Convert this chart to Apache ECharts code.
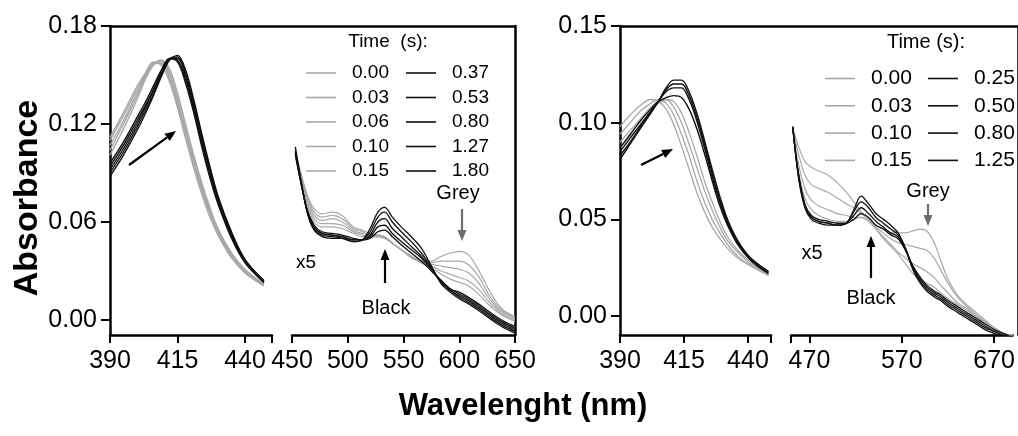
<!DOCTYPE html>
<html>
<head>
<meta charset="utf-8">
<script src="https://cdn.jsdelivr.net/npm/echarts@6/dist/echarts.min.js"></script>
<style>
  html, body { margin: 0; padding: 0; background: #fff; }
  #chart { width: 1018px; height: 436px; }
</style>
</head>
<body>
<div id="chart"></div>
<script>
// ---- left panel: Soret band (390-450 nm) ----
const wlA1 = [390, 395, 400, 403, 406, 409, 412, 415, 418, 421, 424, 427, 430, 435, 440, 447]
const timesAGrey = ['0.00', '0.03', '0.06', '0.10', '0.15']
const timesABlack = ['0.37', '0.53', '0.80', '1.27', '1.80']
const soretAGrey = [
  [0.112, 0.127, 0.143, 0.151, 0.158, 0.156, 0.146, 0.130, 0.111, 0.093, 0.077, 0.063, 0.052, 0.038, 0.029, 0.021],
  [0.110, 0.125, 0.141, 0.150, 0.157, 0.157, 0.148, 0.132, 0.113, 0.095, 0.079, 0.065, 0.053, 0.039, 0.029, 0.021],
  [0.107, 0.122, 0.139, 0.149, 0.157, 0.158, 0.150, 0.134, 0.115, 0.097, 0.080, 0.066, 0.054, 0.040, 0.030, 0.021],
  [0.104, 0.120, 0.137, 0.148, 0.156, 0.159, 0.152, 0.136, 0.117, 0.099, 0.082, 0.067, 0.055, 0.041, 0.030, 0.022],
  [0.101, 0.117, 0.135, 0.147, 0.156, 0.159, 0.154, 0.139, 0.120, 0.101, 0.084, 0.069, 0.056, 0.041, 0.031, 0.022]
]
const soretABlack = [
  [0.096, 0.109, 0.124, 0.133, 0.143, 0.153, 0.160, 0.158, 0.145, 0.127, 0.106, 0.087, 0.071, 0.050, 0.035, 0.023],
  [0.094, 0.107, 0.122, 0.131, 0.141, 0.152, 0.160, 0.159, 0.147, 0.129, 0.108, 0.089, 0.072, 0.051, 0.036, 0.023],
  [0.092, 0.105, 0.120, 0.130, 0.140, 0.151, 0.160, 0.160, 0.149, 0.131, 0.110, 0.091, 0.074, 0.052, 0.036, 0.024],
  [0.090, 0.103, 0.118, 0.128, 0.138, 0.150, 0.160, 0.161, 0.151, 0.133, 0.112, 0.093, 0.075, 0.053, 0.037, 0.024],
  [0.088, 0.101, 0.116, 0.126, 0.137, 0.149, 0.159, 0.162, 0.153, 0.135, 0.114, 0.094, 0.076, 0.054, 0.037, 0.024]
]

// ---- left panel: Q bands x5 (450-650 nm) ----
const wlA2 = [453, 458, 464, 470, 477, 486, 495, 505, 513, 520, 527, 533, 540, 548, 557, 566, 575, 584, 592, 600, 608, 617, 627, 638, 650]
const qAGrey = [
  [0.103, 0.090, 0.076, 0.068, 0.065, 0.066, 0.064, 0.057, 0.055, 0.053, 0.052, 0.051, 0.047, 0.043, 0.039, 0.036, 0.036, 0.039, 0.041, 0.042, 0.040, 0.031, 0.018, 0.007, 0.002],
  [0.103, 0.089, 0.075, 0.066, 0.063, 0.064, 0.062, 0.056, 0.054, 0.052, 0.052, 0.051, 0.047, 0.043, 0.039, 0.036, 0.035, 0.036, 0.036, 0.036, 0.034, 0.027, 0.015, 0.006, 0.002],
  [0.102, 0.088, 0.074, 0.064, 0.061, 0.062, 0.060, 0.055, 0.053, 0.052, 0.052, 0.051, 0.047, 0.043, 0.039, 0.036, 0.034, 0.033, 0.032, 0.031, 0.029, 0.023, 0.013, 0.005, 0.001],
  [0.102, 0.087, 0.072, 0.062, 0.059, 0.059, 0.058, 0.054, 0.052, 0.051, 0.051, 0.050, 0.047, 0.043, 0.039, 0.035, 0.033, 0.030, 0.028, 0.026, 0.024, 0.019, 0.011, 0.004, 0.000],
  [0.101, 0.086, 0.070, 0.060, 0.057, 0.057, 0.056, 0.053, 0.051, 0.051, 0.051, 0.050, 0.047, 0.043, 0.038, 0.035, 0.032, 0.028, 0.025, 0.023, 0.021, 0.016, 0.009, 0.003, -0.001]
]
const qABlack = [
  [0.101, 0.084, 0.067, 0.058, 0.054, 0.053, 0.052, 0.050, 0.049, 0.050, 0.054, 0.055, 0.051, 0.046, 0.041, 0.036, 0.030, 0.024, 0.019, 0.017, 0.014, 0.010, 0.005, 0.000, -0.004],
  [0.102, 0.084, 0.066, 0.057, 0.053, 0.052, 0.051, 0.049, 0.049, 0.051, 0.057, 0.058, 0.053, 0.048, 0.043, 0.038, 0.031, 0.024, 0.019, 0.016, 0.013, 0.009, 0.004, -0.001, -0.005],
  [0.103, 0.085, 0.066, 0.056, 0.053, 0.052, 0.051, 0.049, 0.049, 0.052, 0.060, 0.062, 0.056, 0.051, 0.045, 0.039, 0.031, 0.023, 0.018, 0.015, 0.012, 0.008, 0.003, -0.002, -0.006],
  [0.104, 0.085, 0.065, 0.055, 0.052, 0.051, 0.050, 0.048, 0.049, 0.054, 0.063, 0.066, 0.060, 0.054, 0.048, 0.041, 0.032, 0.023, 0.018, 0.014, 0.011, 0.007, 0.002, -0.003, -0.007],
  [0.106, 0.086, 0.065, 0.055, 0.051, 0.050, 0.050, 0.048, 0.049, 0.056, 0.066, 0.069, 0.063, 0.057, 0.051, 0.044, 0.033, 0.022, 0.017, 0.013, 0.010, 0.006, 0.001, -0.004, -0.008]
]

// ---- right panel: Soret band ----
const wlB1 = [390, 394, 398, 402, 405, 408, 411, 414, 417, 420, 423, 426, 429, 432, 436, 441, 448]
const timesBGrey = ['0.00', '0.03', '0.10', '0.15']
const timesBBlack = ['0.25', '0.50', '0.80', '1.25']
const soretBGrey = [
  [0.098, 0.104, 0.109, 0.112, 0.111, 0.107, 0.099, 0.088, 0.076, 0.064, 0.054, 0.046, 0.040, 0.035, 0.030, 0.026, 0.021],
  [0.094, 0.100, 0.106, 0.110, 0.112, 0.110, 0.104, 0.094, 0.083, 0.070, 0.059, 0.050, 0.043, 0.037, 0.031, 0.026, 0.021],
  [0.090, 0.096, 0.102, 0.108, 0.111, 0.112, 0.108, 0.100, 0.089, 0.077, 0.065, 0.055, 0.046, 0.039, 0.033, 0.027, 0.022],
  [0.087, 0.093, 0.099, 0.106, 0.110, 0.112, 0.111, 0.105, 0.095, 0.083, 0.070, 0.059, 0.049, 0.041, 0.034, 0.028, 0.022]
]
const soretBBlack = [
  [0.087, 0.094, 0.101, 0.107, 0.111, 0.113, 0.114, 0.113, 0.107, 0.097, 0.084, 0.070, 0.057, 0.047, 0.037, 0.029, 0.022],
  [0.085, 0.092, 0.099, 0.106, 0.111, 0.116, 0.118, 0.118, 0.112, 0.101, 0.087, 0.072, 0.059, 0.048, 0.038, 0.029, 0.022],
  [0.083, 0.090, 0.098, 0.105, 0.111, 0.117, 0.120, 0.120, 0.114, 0.103, 0.089, 0.074, 0.060, 0.049, 0.038, 0.030, 0.023],
  [0.081, 0.089, 0.097, 0.105, 0.111, 0.118, 0.122, 0.122, 0.116, 0.105, 0.091, 0.076, 0.062, 0.050, 0.039, 0.030, 0.023]
]

// ---- right panel: Q bands x5 ----
const wlB2 = [452, 458, 465, 472, 480, 490, 500, 510, 518, 526, 534, 542, 550, 558, 566, 574, 582, 590, 597, 605, 612, 620, 630, 640, 650, 660, 670, 680, 690]
const qBGrey = [
  [0.097, 0.088, 0.080, 0.077, 0.075, 0.073, 0.069, 0.064, 0.059, 0.054, 0.050, 0.047, 0.045, 0.043, 0.043, 0.043, 0.044, 0.045, 0.044, 0.038, 0.029, 0.019, 0.011, 0.006, 0.002, -0.002, -0.006, -0.009, -0.010],
  [0.097, 0.084, 0.073, 0.068, 0.066, 0.064, 0.061, 0.058, 0.056, 0.053, 0.050, 0.046, 0.043, 0.040, 0.038, 0.037, 0.036, 0.035, 0.034, 0.030, 0.024, 0.017, 0.010, 0.005, 0.001, -0.003, -0.006, -0.009, -0.010],
  [0.096, 0.079, 0.066, 0.060, 0.057, 0.055, 0.053, 0.052, 0.051, 0.051, 0.049, 0.045, 0.041, 0.037, 0.033, 0.030, 0.027, 0.025, 0.023, 0.020, 0.016, 0.012, 0.007, 0.004, 0.000, -0.003, -0.006, -0.009, -0.010],
  [0.096, 0.075, 0.061, 0.055, 0.052, 0.050, 0.049, 0.049, 0.050, 0.051, 0.049, 0.045, 0.040, 0.036, 0.032, 0.027, 0.022, 0.019, 0.017, 0.015, 0.012, 0.009, 0.006, 0.003, 0.000, -0.003, -0.006, -0.009, -0.010]
]
const qBBlack = [
  [0.097, 0.074, 0.058, 0.052, 0.050, 0.049, 0.048, 0.048, 0.050, 0.053, 0.051, 0.047, 0.045, 0.042, 0.040, 0.034, 0.026, 0.020, 0.016, 0.013, 0.011, 0.008, 0.005, 0.002, -0.001, -0.004, -0.007, -0.009, -0.011],
  [0.097, 0.073, 0.057, 0.051, 0.049, 0.048, 0.047, 0.048, 0.052, 0.056, 0.053, 0.049, 0.046, 0.043, 0.041, 0.034, 0.025, 0.019, 0.015, 0.012, 0.010, 0.007, 0.004, 0.001, -0.002, -0.005, -0.008, -0.010, -0.011],
  [0.098, 0.073, 0.057, 0.051, 0.049, 0.048, 0.047, 0.048, 0.054, 0.059, 0.056, 0.051, 0.048, 0.045, 0.042, 0.035, 0.025, 0.018, 0.014, 0.011, 0.009, 0.006, 0.003, 0.000, -0.003, -0.006, -0.008, -0.010, -0.012],
  [0.098, 0.072, 0.056, 0.050, 0.048, 0.047, 0.047, 0.048, 0.055, 0.062, 0.058, 0.053, 0.050, 0.047, 0.043, 0.035, 0.024, 0.017, 0.013, 0.010, 0.008, 0.005, 0.002, -0.001, -0.004, -0.007, -0.009, -0.011, -0.012]
]

const FONT = '"Liberation Sans", Arial, Helvetica, sans-serif'
const GREY = '#a8a8a8'
const BLACK = '#111111'

const myChart = echarts.init(document.getElementById('chart'), null, { renderer: 'canvas' })

// grids: 0 A-soret, 1 A-Q, 2 A-frame, 3 B-soret, 4 B-Q, 5 B-frame
const grids = [
  { left: 110, top: 26, width: 162, height: 309 },
  { left: 292, top: 26, width: 223, height: 309 },
  { left: 110, top: 26, width: 405, height: 309 },
  { left: 620, top: 26, width: 151, height: 309 },
  { left: 791, top: 26, width: 229, height: 309 },
  { left: 620, top: 26, width: 400, height: 309 }
]

const axisLineStyle = { color: '#000', width: 2.5 }

const xAx = (gridIndex, min, max, ticks, labels) => ({
  type: 'value',
  gridIndex,
  min,
  max,
  axisLine: { show: true, onZero: false, lineStyle: axisLineStyle },
  axisTick: { show: true, length: 8, lineStyle: { color: '#000', width: 2 }, customValues: ticks },
  axisLabel: { show: true, customValues: labels, fontSize: 25, color: '#000', fontFamily: FONT, margin: 14 },
  splitLine: { show: false }
})

const frameX = gridIndex => ({
  type: 'value', gridIndex, min: 0, max: 1, position: 'top',
  axisLine: { show: true, onZero: false, lineStyle: axisLineStyle },
  axisTick: { show: false }, axisLabel: { show: false }, splitLine: { show: false }
})

const frameY = gridIndex => ({
  type: 'value', gridIndex, min: 0, max: 1, position: 'right',
  axisLine: { show: true, onZero: false, lineStyle: axisLineStyle },
  axisTick: { show: false }, axisLabel: { show: false }, splitLine: { show: false }
})

const yAx = (gridIndex, min, max, ticks, shown) => ({
  type: 'value',
  gridIndex,
  min,
  max,
  axisLine: { show: shown, onZero: false, lineStyle: axisLineStyle },
  axisTick: { show: shown, length: 9, lineStyle: { color: '#000', width: 2 }, customValues: ticks },
  axisLabel: {
    show: shown, customValues: ticks, fontSize: 25, color: '#000', fontFamily: FONT, margin: 13,
    formatter: v => v.toFixed(2)
  },
  splitLine: { show: false }
})

const yTicksA = [0, 0.06, 0.12, 0.18]
const yTicksB = [0, 0.05, 0.10, 0.15]

const mkSeries = (names, wl, rows, color, width, axisIdx) =>
  rows.map((vals, i) => ({
    name: names[i],
    type: 'line',
    xAxisIndex: axisIdx,
    yAxisIndex: axisIdx,
    data: wl.map((w, j) => [w, vals[j]]),
    color: color,
    lineStyle: { color: color, width: width },
    showSymbol: false,
    symbol: 'none',
    smooth: 0.35,
    silent: true,
    animation: false
  }))

const series = [].concat(
  mkSeries(timesAGrey, wlA1, soretAGrey, GREY, 1.4, 0),
  mkSeries(timesABlack, wlA1, soretABlack, BLACK, 1.4, 0),
  mkSeries(timesAGrey, wlA2, qAGrey, GREY, 1.2, 1),
  mkSeries(timesABlack, wlA2, qABlack, BLACK, 1.3, 1),
  mkSeries(timesBGrey, wlB1, soretBGrey, GREY, 1.3, 3),
  mkSeries(timesBBlack, wlB1, soretBBlack, BLACK, 1.4, 3),
  mkSeries(timesBGrey, wlB2, qBGrey, GREY, 1.2, 4),
  mkSeries(timesBBlack, wlB2, qBBlack, BLACK, 1.3, 4)
)

const legendBox = (names, left, top, fontSize, gap) => ({
  data: names,
  orient: 'vertical',
  left,
  top,
  padding: 0,
  itemWidth: 30,
  itemHeight: 1.6,
  itemGap: gap,
  icon: 'rect',
  selectedMode: false,
  textStyle: { fontSize, lineHeight: 20, color: '#000', fontFamily: FONT, padding: [0, 0, 0, 11] }
})

const label = (text, x, y, size, weight, rot) => ({
  type: 'text',
  x, y,
  rotation: rot || 0,
  style: {
    text, x: 0, y: 0, fill: '#000',
    font: `${weight || 'normal'} ${size}px ${FONT}`,
    textAlign: 'center', textVerticalAlign: 'middle', verticalAlign: 'middle'
  }
})

const arrow = (x1, y1, x2, y2, color) => {
  const a = Math.atan2(y2 - y1, x2 - x1)
  const L = 11, W = 4.5
  const bx = x2 - L * Math.cos(a), by = y2 - L * Math.sin(a)
  return [
    { type: 'line', shape: { x1, y1, x2: bx, y2: by }, style: { stroke: color, lineWidth: 2.2 } },
    {
      type: 'polygon',
      shape: { points: [[x2, y2], [bx + W * Math.sin(a), by - W * Math.cos(a)], [bx - W * Math.sin(a), by + W * Math.cos(a)]] },
      style: { fill: color }
    }
  ]
}

myChart.setOption({
  animation: false,
  grid: grids,
  xAxis: [
    xAx(0, 390, 450, [390, 415, 440, 450], [390, 415, 440]),
    xAx(1, 450, 650, [450, 500, 550, 600, 650], [450, 500, 550, 600, 650]),
    frameX(2),
    xAx(3, 390, 449, [390, 415, 440, 449], [390, 415, 440]),
    xAx(4, 450, 690, [450, 470, 570, 670], [470, 570, 670]),
    frameX(5)
  ],
  yAxis: [
    yAx(0, -0.0092, 0.18, yTicksA, true),
    yAx(1, -0.0092, 0.18, yTicksA, false),
    frameY(2),
    yAx(3, -0.0098, 0.15, yTicksB, true),
    yAx(4, -0.0098, 0.15, yTicksB, false),
    frameY(5)
  ],
  legend: [
    legendBox(timesAGrey, 306, 63, 19, 4.5),
    legendBox(timesABlack, 406, 63, 19, 4.5),
    legendBox(timesBGrey, 825, 68, 21, 6.3),
    legendBox(timesBBlack, 928, 68, 21, 6.3)
  ],
  graphic: [
    label('Absorbance', 28, 198, 34, 'bold', Math.PI / 2),
    label('Wavelenght (nm)', 523, 406, 31, 'bold'),
    label('Time  (s):', 388, 42, 19),
    label('Time (s):', 926, 42, 20),
    label('Grey', 458, 193, 20),
    label('Grey', 928, 191, 20),
    label('x5', 306, 263, 19),
    label('x5', 812, 253, 20),
    label('Black', 386, 308, 20),
    label('Black', 871, 298, 20),
    ...arrow(129, 165, 176, 131, '#000'),
    ...arrow(385, 283, 385, 249, '#000'),
    ...arrow(462, 209, 462, 241, '#6e6e6e'),
    ...arrow(641, 165, 673, 149, '#000'),
    ...arrow(928, 204, 928, 226, '#6e6e6e'),
    ...arrow(871, 278, 871, 236, '#000')
  ],
  series
})
</script>
</body>
</html>
